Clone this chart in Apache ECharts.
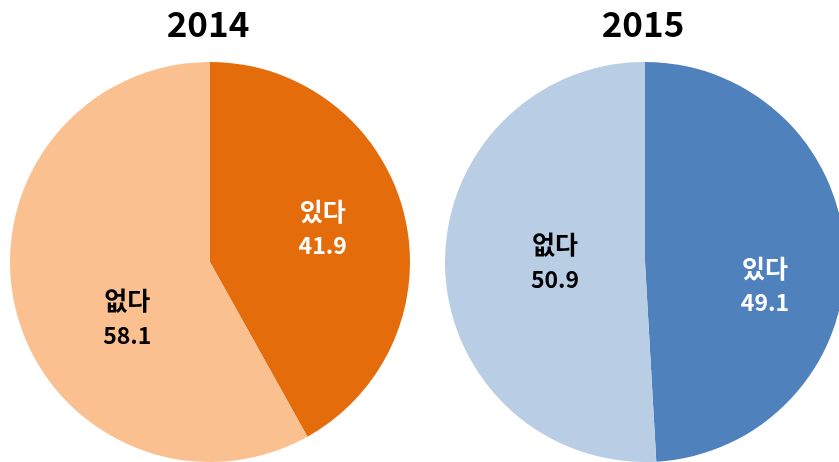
<!DOCTYPE html>
<html>
<head>
<meta charset="utf-8">
<script src="https://cdn.jsdelivr.net/npm/echarts@6/dist/echarts.min.js"></script>
<style>
  html, body { margin: 0; padding: 0; background: #fff; }
  #chart { width: 839px; height: 462px; }
</style>
</head>
<body>
<div id="chart"></div>
<script>
// Share answering 있다 / 없다, by year
const years = ['2014', '2015'];
const categories = ['있다', '없다'];
const values2014 = [41.9, 58.1];
const values2015 = [49.1, 50.9];

const palettes = [
  ['#E46C0A', '#FAC090'],
  ['#4F81BD', '#B9CDE5']
];
const labelColors = ['#ffffff', '#000000'];
const centers = [[210, 262], [645, 262]];
// small nudges for the inside labels, per slice
const labelShift = [
  [[13, -8], [17, 30]],
  [[17, 26], [13, -3]]
];

const font = '"Noto Sans CJK KR", "Noto Sans", sans-serif';

function buildSeries(idx, values) {
  return {
    type: 'pie',
    center: centers[idx],
    radius: 200,
    startAngle: 90,
    clockwise: true,
    silent: true,
    animation: false,
    emphasis: { disabled: true },
    itemStyle: { borderWidth: 0 },
    labelLine: { show: false },
    label: {
      show: true,
      position: 'inside',
      formatter: '{h|{b}}\n{n|{c}}',
      fontFamily: font,
      fontWeight: 'bold',
      align: 'center',
      rich: {
        h: { fontFamily: font, fontWeight: 'bold', fontSize: 25, lineHeight: 34, align: 'center' },
        n: { fontFamily: font, fontWeight: 'bold', fontSize: 23, lineHeight: 34, align: 'center' }
      }
    },
    labelLayout: function (p) {
      const s = labelShift[idx][p.dataIndex];
      return { dx: s[0], dy: s[1] };
    },
    data: categories.map((name, i) => ({
      name: name,
      value: values[i],
      itemStyle: { color: palettes[idx][i] },
      label: { color: labelColors[i] }
    }))
  };
}

const chart = echarts.init(document.getElementById('chart'), null, { renderer: 'canvas' });
chart.setOption({
  backgroundColor: '#ffffff',
  title: years.map((y, i) => ({
    text: y,
    left: centers[i][0] - 7,
    top: 1,
    textAlign: 'center',
    textStyle: { fontFamily: font, fontWeight: 'bold', fontSize: 35, color: '#000' }
  })),
  series: [buildSeries(0, values2014), buildSeries(1, values2015)]
});
</script>
</body>
</html>
